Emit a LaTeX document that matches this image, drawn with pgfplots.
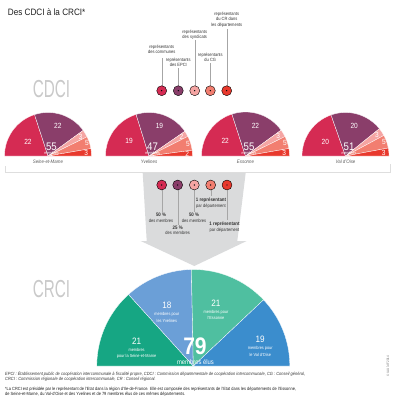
\documentclass[border=0pt]{standalone}
\usepackage{fontspec}
\setmainfont{Liberation Sans}[FakeStretch=0.88]
\newfontfamily\bigthin{Liberation Sans}[FakeStretch=0.62]
\usepackage{pgfplots}
\pgfplotsset{compat=1.18}
\definecolor{ccom}{HTML}{D52B53}
\definecolor{cepci}{HTML}{8A3E6A}
\definecolor{csyn}{HTML}{F5A5A3}
\definecolor{ccg}{HTML}{F27E70}
\definecolor{ccr}{HTML}{E8392D}
\definecolor{csem}{HTML}{16A683}
\definecolor{cyv}{HTML}{6B9FD7}
\definecolor{cess}{HTML}{4FBFA0}
\definecolor{cvdo}{HTML}{3B8DCD}
\definecolor{arrowgray}{HTML}{DADBDC}
\definecolor{bigtxt}{HTML}{C9C9C9}
\definecolor{txt}{HTML}{333333}
\tikzset{
 tl/.style={anchor=base, inner sep=0, text=txt, font=\fontsize{4.6}{5.5}\selectfont},
 tlb/.style={anchor=base, inner sep=0, text=txt, font=\bfseries\fontsize{5}{6}\selectfont},
 pnum/.style={anchor=center, inner sep=0, text=white, font=\fontsize{7.5}{8}\selectfont},
 ptot/.style={anchor=base, inner sep=0, text=white, font=\fontsize{11}{12}\selectfont},
 pmem/.style={anchor=base, inner sep=0, text=white, font=\fontsize{4}{5}\selectfont},
 pname/.style={anchor=base, inner sep=0, text=black!65, font=\itshape\fontsize{5}{6}\selectfont},
 bnum/.style={anchor=base, inner sep=0, text=white, font=\fontsize{9.3}{10}\selectfont},
 bsub/.style={anchor=base, inner sep=0, text=white, font=\fontsize{4.4}{5}\selectfont},
}
% wedge: cx cy R a1 a2 colour
\newcommand\wedgeplot[6]{%
 \edef\doit{\noexpand\addplot[draw=white,line width=0.3pt,fill=#6,mark=none,domain=#4:#5,samples=40,variable=\noexpand\t]
 ({#1+#3*cos(\noexpand\t)},{#2-#3*sin(\noexpand\t)}) -- (axis cs:#1,#2) -- cycle;}\doit}
% label: cx cy r angle text style
\newcommand\plbl[6]{%
 \pgfmathsetmacro\lx{#1+(#3)*cos(#4)}\pgfmathsetmacro\ly{#2-(#3)*sin(#4)}%
 \edef\doit{\noexpand\node[#6] at (axis cs:\lx,\ly) {#5};}\doit}
% half pie: cx cy R v1..v5 name
\newcommand\halfpie[9]{%
 \pgfmathsetmacro\tot{#4+#5+#6+#7+#8}%
 \pgfmathtruncatemacro\totI{#4+#5+#6+#7+#8}%
 \pgfmathsetmacro\bA{180-180*#4/\tot}%
 \pgfmathsetmacro\bB{\bA-180*#5/\tot}%
 \pgfmathsetmacro\bC{\bB-180*#6/\tot}%
 \pgfmathsetmacro\bD{\bC-180*#7/\tot}%
 \wedgeplot{#1}{#2}{#3}{\bA}{180}{ccom}%
 \wedgeplot{#1}{#2}{#3}{\bB}{\bA}{cepci}%
 \wedgeplot{#1}{#2}{#3}{\bC}{\bB}{csyn}%
 \wedgeplot{#1}{#2}{#3}{\bD}{\bC}{ccg}%
 \wedgeplot{#1}{#2}{#3}{0}{\bD}{ccr}%
 \pgfmathsetmacro\mA{(180+\bA)/2}\plbl{#1}{#2}{0.57*#3}{\mA}{#4}{pnum}%
 \pgfmathsetmacro\mB{(\bA+\bB)/2}\plbl{#1}{#2}{0.73*#3}{\mB}{#5}{pnum}%
 \pgfmathsetmacro\mC{(\bB+\bC)/2}\plbl{#1}{#2}{0.87*#3}{\mC}{#6}{pnum}%
 \pgfmathsetmacro\mD{(\bC+\bD)/2}\plbl{#1}{#2}{0.94*#3}{\mD}{#7}{pnum}%
 \pgfmathsetmacro\mE{(\bD)/2}\plbl{#1}{#2}{0.88*#3}{\mE}{#8}{pnum}%
 \pgfmathsetmacro\tx{#1+3.5}\pgfmathsetmacro\tyA{#2-5.8}\pgfmathsetmacro\tyB{#2-1.8}%
 \edef\doit{\noexpand\node[ptot] at (axis cs:\tx,\tyA) {\totI};
   \noexpand\node[pmem] at (axis cs:\tx,\tyB) {membres};
   \noexpand\node[pname] at (axis cs:#1,163.7) {#9};}\doit}
% bottom label: angle r number line1 line2
\newcommand\blbl[5]{%
 \pgfmathsetmacro\lx{193.3+(#2)*cos(#1)}\pgfmathsetmacro\ly{366-(#2)*sin(#1)}%
 \pgfmathsetmacro\lyA{\ly+3.3}\pgfmathsetmacro\lyB{\ly+10.4}\pgfmathsetmacro\lyC{\ly+16.9}%
 \edef\doit{\noexpand\node[bnum] at (axis cs:\lx,\lyA) {#3};
  \noexpand\node[bsub] at (axis cs:\lx,\lyB) {\unexpanded{#4}};
  \noexpand\node[bsub] at (axis cs:\lx,\lyC) {\unexpanded{#5}};}\doit}
% legend dot with line: x y ytop colour
\newcommand\ldot[4]{%
 \addplot[draw=black!35, line width=0.4pt, mark=none] coordinates {(#1,#2)(#1,#3)};
 \addplot[only marks, mark=*, mark size=5, mark options={draw=none, fill=#4}] coordinates {(#1,#2)};
 \addplot[only marks, mark=*, mark size=0.45, mark options={draw=none, fill=black!50}] coordinates {(#1,#2)};}
\begin{document}
\begin{tikzpicture}
\begin{axis}[scale only axis, width=395bp, height=405bp,
  xmin=0, xmax=395, ymin=0, ymax=405, y dir=reverse, hide axis, clip=false]
\addplot[draw=none, mark=none] coordinates {(0,0)(395,405)};
% frame of the top pies
\addplot[draw=black!13, line width=0.6pt, mark=none] coordinates {(5,166)(5,172)(390,172)(390,164)};
% gray arrow
\addplot[fill=arrowgray, draw=none, mark=none] coordinates {(142.7,172.8)(245.7,172.8)(237.3,241)(246.7,241)(194.3,266)(140.7,241)(146.7,241)} -- cycle;
% top legend
\ldot{161.7}{90.7}{58.3}{ccom}
\ldot{178.3}{90.7}{68.3}{cepci}
\ldot{194.7}{90.7}{40}{csyn}
\ldot{210.3}{90.7}{62.7}{ccg}
\ldot{226.7}{90.7}{29.3}{ccr}
% departmental commissions: communes, EPCI, syndicats, CG, CR
\halfpie{48}{156}{43.5}{22}{22}{3}{5}{3}{Seine-et-Marne}
\halfpie{149}{156}{43.5}{19}{19}{2}{5}{2}{Yvelines}
\halfpie{245.5}{156}{44}{22}{22}{3}{5}{3}{Essonne}
\halfpie{345.5}{156}{43.5}{20}{20}{3}{5}{3}{Val d'Oise}
% arrow legend
\ldot{161.7}{185}{211.7}{ccom}
\ldot{177.7}{185}{225}{cepci}
\ldot{194.3}{185}{211.7}{csyn}
\ldot{210.7}{185}{196}{ccg}
\ldot{227}{185}{220}{ccr}
% regional commission
\pgfmathsetmacro\gA{180-180*21/79}
\pgfmathsetmacro\gB{\gA-180*18/79}
\pgfmathsetmacro\gC{\gB-180*21/79}
\wedgeplot{193.3}{366}{96.5}{\gA}{180}{csem}
\wedgeplot{193.3}{366}{96.5}{\gB}{\gA}{cyv}
\wedgeplot{193.3}{366}{96.5}{\gC}{\gB}{cess}
\wedgeplot{193.3}{366}{96.5}{0}{\gC}{cvdo}
\pgfmathsetmacro\hA{(180+\gA)/2}\blbl{\hA}{62}{21}{membres}{pour la Seine-et-Marne}
\pgfmathsetmacro\hB{(\gA+\gB)/2+2}\blbl{\hB}{66}{18}{membres pour}{les Yvelines}
\pgfmathsetmacro\hC{(\gB+\gC)/2+3}\blbl{\hC}{67}{21}{membres pour}{l'Essonne}
\pgfmathsetmacro\hD{\gC/2}\blbl{\hD}{72}{19}{membres pour}{le Val d'Oise}
% texts
\node[anchor=base west, inner sep=0, text=black!88, font=\fontsize{9.3}{10}\selectfont] at (axis cs:7.7,16) {Des CDCI à la CRCI*};
\node[anchor=base west, inner sep=0, text=bigtxt, font=\bigthin\fontsize{24.7}{25}\selectfont] at (axis cs:32.7,97) {CDCI};
\node[anchor=base west, inner sep=0, text=bigtxt, font=\bigthin\fontsize{24.7}{25}\selectfont] at (axis cs:32.7,297.7) {CRCI};
% top legend labels
\node[tl] at (axis cs:161.7,48.3) {représentants};
\node[tl] at (axis cs:161.7,53.9) {des communes};
\node[tl] at (axis cs:178.3,61.6) {représentants};
\node[tl] at (axis cs:178.3,66.9) {des EPCI};
\node[tl] at (axis cs:194.7,33.3) {représentants};
\node[tl] at (axis cs:194.7,38.9) {des syndicats};
\node[tl] at (axis cs:210.3,56.6) {représentants};
\node[tl] at (axis cs:210.3,61.6) {du CG};
\node[tl] at (axis cs:226.7,15.6) {représentants};
\node[tl] at (axis cs:226.7,20.9) {du CR dans};
\node[tl] at (axis cs:226.7,26.6) {les départements};
% arrow legend labels
\node[tlb] at (axis cs:161,216.8) {50 \%};
\node[tl] at (axis cs:161,222.7) {des membres};
\node[tlb] at (axis cs:177.7,229.3) {25 \%};
\node[tl] at (axis cs:177.7,234.1) {des membres};
\node[tlb] at (axis cs:194,216.8) {50 \%};
\node[tl] at (axis cs:194,222.6) {des membres};
\node[tlb] at (axis cs:211,201.8) {1 représentant};
\node[tl] at (axis cs:211,207.1) {par département};
\node[tlb] at (axis cs:224.5,225.3) {1 représentant};
\node[tl] at (axis cs:224.5,231.6) {par département};
% centre of the regional commission
\node[anchor=base, inner sep=0, text=white, font=\bfseries\fontsize{24}{25}\selectfont] at (axis cs:195,354.5) {79};
\node[anchor=base, inner sep=0, text=white, font=\fontsize{6.7}{7}\selectfont] at (axis cs:195.5,364) {membres élus};
% notes
\node[anchor=base west, inner sep=0, text=black!80, font=\itshape\fontsize{4.55}{5}\selectfont] at (axis cs:5,375.8) {EPCI : Établissement public de coopération intercommunale à fiscalité propre, CDCI : Commission départementale de coopération intercommunale, CG : Conseil général,};
\node[anchor=base west, inner sep=0, text=black!80, font=\itshape\fontsize{4.55}{5}\selectfont] at (axis cs:5,380.8) {CRCI : Commission régionale de coopération intercommunale, CR : Conseil régional.};
\node[anchor=base west, inner sep=0, text=black!90, font=\fontsize{4.5}{5}\selectfont] at (axis cs:5,390.5) {*La CRCI est présidée par le représentant de l'Etat dans la région d'Ile-de-France. Elle est composée des représentants de l'Etat dans les départements de l'Essonne,};
\node[anchor=base west, inner sep=0, text=black!90, font=\fontsize{4.5}{5}\selectfont] at (axis cs:5,395.5) {de Seine-et-Marne, du Val-d'Oise et des Yvelines et de 79 membres élus de ces mêmes départements.};
\node[rotate=90, inner sep=0, text=black!55, font=\fontsize{3.4}{4}\selectfont] at (axis cs:388,366) {© IAU îdF 2014};
\end{axis}
\end{tikzpicture}
\end{document}
